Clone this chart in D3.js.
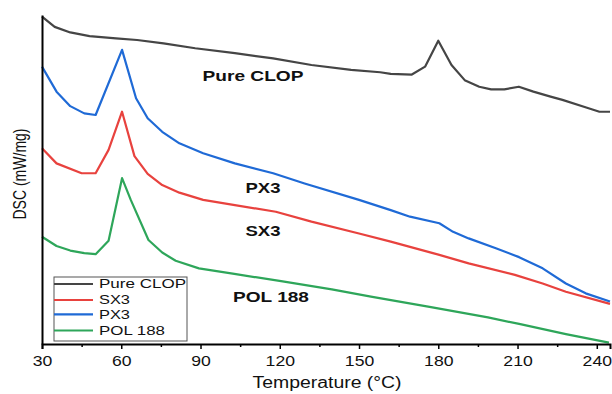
<!DOCTYPE html>
<html>
<head>
<meta charset="utf-8">
<script src="https://cdn.jsdelivr.net/npm/d3@7"></script>
<style>
  html, body { margin: 0; padding: 0; background: #fff; }
  svg { display: block; }
  text { font-family: "Liberation Sans", Arial, sans-serif; }
</style>
</head>
<body>
<svg id="chart" width="612" height="394"></svg>
<script>
// ---- Data (temperature in °C, DSC heat flow in arbitrary units) ----
const seriesNames = ["Pure CLOP", "SX3", "PX3", "POL 188"];
const seriesColors = ["#454545", "#e8423e", "#1f6ad6", "#2ea65a"];

const clopT = [30, 34.8, 40.7, 48, 58, 66, 76, 88, 103, 117.5, 132, 147, 158, 162, 170, 175, 180, 185, 190, 195.5, 200, 205, 210.5, 216, 222.5, 227, 236, 241, 245];
const clopV = [9.95, 9.64, 9.47, 9.36, 9.29, 9.24, 9.14, 8.99, 8.84, 8.68, 8.48, 8.33, 8.26, 8.21, 8.19, 8.43, 9.22, 8.48, 8.02, 7.82, 7.74, 7.74, 7.82, 7.67, 7.52, 7.42, 7.19, 7.06, 7.06];

const sx3T = [30, 35.5, 45, 50.3, 55.2, 60.3, 65, 70, 75.5, 82, 91, 103, 118.5, 132, 150, 162, 180.4, 191.5, 209, 219.5, 228.3, 245];
const sx3V = [5.95, 5.49, 5.19, 5.19, 5.90, 7.06, 5.71, 5.17, 4.83, 4.60, 4.38, 4.22, 4.02, 3.72, 3.36, 3.11, 2.71, 2.45, 2.10, 1.84, 1.59, 1.22];

const px3T = [30, 35.5, 40.7, 46, 50.3, 60.3, 65.6, 70, 75.5, 82, 91, 103, 117.5, 129.4, 150, 162, 169.3, 180.4, 185.6, 191.5, 201.8, 210.6, 219.5, 228.3, 235.8, 245];
const px3V = [8.43, 7.67, 7.23, 7.01, 6.96, 8.94, 7.47, 6.86, 6.45, 6.10, 5.80, 5.49, 5.19, 4.88, 4.38, 4.07, 3.87, 3.67, 3.41, 3.21, 2.91, 2.64, 2.30, 1.84, 1.54, 1.29];

const polT = [30, 35.5, 40.7, 46, 50.3, 55.2, 60.3, 63.6, 70.3, 75.5, 80.6, 89.4, 102.8, 120.5, 139.7, 154.5, 176.7, 198.8, 210.6, 228.3, 244.6];
const polV = [3.26, 2.98, 2.84, 2.76, 2.73, 3.14, 5.04, 4.38, 3.16, 2.78, 2.53, 2.30, 2.13, 1.91, 1.66, 1.44, 1.13, 0.81, 0.61, 0.30, 0.04];

const xMajorTicks = [30, 60, 90, 120, 150, 180, 210, 240];
const xMinorTicks = [45, 75, 105, 135, 165, 195, 225];

const curveLabels = ["Pure CLOP", "PX3", "SX3", "POL 188"];
const xTitle = "Temperature (°C)";
const yTitle = "DSC (mW/mg)";

// ---- Build ----
const svg = d3.select("#chart");
const x = d3.scaleLinear().domain([30, 245]).range([42, 610]);
const y = d3.scaleLinear().domain([0, 10]).range([344, 15]);

const series = [
  { name: seriesNames[0], color: seriesColors[0], pts: clopT.map((t, i) => [t, clopV[i]]) },
  { name: seriesNames[1], color: seriesColors[1], pts: sx3T.map((t, i) => [t, sx3V[i]]) },
  { name: seriesNames[2], color: seriesColors[2], pts: px3T.map((t, i) => [t, px3V[i]]) },
  { name: seriesNames[3], color: seriesColors[3], pts: polT.map((t, i) => [t, polV[i]]) }
];

const line = d3.line().x(d => x(d[0])).y(d => y(d[1]));

// draw in order: POL, SX3, PX3, CLOP
[3, 1, 2, 0].forEach(i => {
  svg.append("path")
    .attr("d", line(series[i].pts))
    .attr("fill", "none")
    .attr("stroke", series[i].color)
    .attr("stroke-width", 2.2)
    .attr("stroke-linejoin", "round");
});

// Axes
const xAxis = svg.append("g").attr("transform", "translate(0,344)")
  .call(d3.axisBottom(x).tickValues(xMajorTicks).tickSize(5).tickPadding(7).tickFormat(d3.format("d")));
xAxis.select(".domain").attr("stroke", "#000").attr("stroke-width", 2);
xAxis.selectAll(".tick line").attr("stroke", "#000").attr("stroke-width", 1.5);
xAxis.selectAll(".tick text")
  .attr("font-size", 14.5)
  .attr("fill", "#111")
  .attr("font-family", "Liberation Sans, Arial, sans-serif")
  .attr("textLength", d => String(d).length * 9.8)
  .attr("lengthAdjust", "spacingAndGlyphs");

const xMinor = svg.append("g").attr("transform", "translate(0,344)")
  .call(d3.axisBottom(x).tickValues(xMinorTicks).tickSize(3).tickFormat(""));
xMinor.select(".domain").remove();
xMinor.selectAll(".tick line").attr("stroke", "#000").attr("stroke-width", 1.5);

const yAxis = svg.append("g").attr("transform", "translate(42,0)")
  .call(d3.axisLeft(y).tickValues([]).tickSizeOuter(0));
yAxis.select(".domain").attr("stroke", "#000").attr("stroke-width", 2);

// Axis titles
svg.append("text")
  .attr("x", 327).attr("y", 388)
  .attr("text-anchor", "middle")
  .attr("font-size", 16)
  .attr("fill", "#111")
  .attr("textLength", 149).attr("lengthAdjust", "spacingAndGlyphs")
  .text(xTitle);

svg.append("text")
  .attr("transform", "translate(26,174) rotate(-90)")
  .attr("text-anchor", "middle")
  .attr("font-size", 17.5)
  .attr("fill", "#111")
  .attr("textLength", 91).attr("lengthAdjust", "spacingAndGlyphs")
  .text(yTitle);

// Curve labels
const labelPos = [
  { t: curveLabels[0], cx: 253, by: 80.7, w: 101 },
  { t: curveLabels[1], cx: 263, by: 193, w: 35 },
  { t: curveLabels[2], cx: 263, by: 236, w: 35 },
  { t: curveLabels[3], cx: 271, by: 301.5, w: 76 }
];
labelPos.forEach(l => {
  svg.append("text")
    .attr("x", l.cx).attr("y", l.by)
    .attr("text-anchor", "middle")
    .attr("font-size", 14.5)
    .attr("font-weight", "bold")
    .attr("fill", "#111")
    .attr("textLength", l.w).attr("lengthAdjust", "spacingAndGlyphs")
    .text(l.t);
});

// Legend
const legend = svg.append("g");
legend.append("rect")
  .attr("x", 54).attr("y", 277).attr("width", 133).attr("height", 64)
  .attr("fill", "#fff").attr("stroke", "#555").attr("stroke-width", 1);
const legendY = [284, 300, 314.3, 330.5];
const legendW = [87, 31, 31, 66];
series.forEach((s, i) => {
  legend.append("line")
    .attr("x1", 54).attr("x2", 93)
    .attr("y1", legendY[i]).attr("y2", legendY[i])
    .attr("stroke", s.color).attr("stroke-width", 2.2);
  legend.append("text")
    .attr("x", 99).attr("y", legendY[i] + 4.4)
    .attr("font-size", 12.5)
    .attr("fill", "#111")
    .attr("textLength", legendW[i]).attr("lengthAdjust", "spacingAndGlyphs")
    .text(s.name);
});
</script>
</body>
</html>
